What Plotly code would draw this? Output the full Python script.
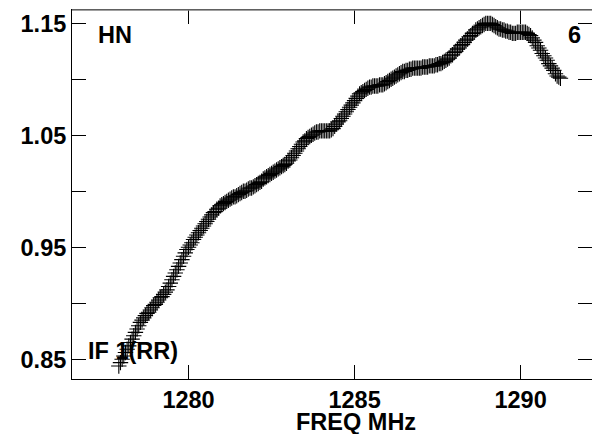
import plotly.graph_objects as go

freq = [
    1277.90, 1277.95, 1278.00, 1278.05, 1278.10, 1278.15, 1278.20, 1278.25, 1278.30, 1278.35,
    1278.40, 1278.45, 1278.50, 1278.55, 1278.60, 1278.65, 1278.70, 1278.75, 1278.80, 1278.85,
    1278.90, 1278.95, 1279.00, 1279.05, 1279.10, 1279.15, 1279.20, 1279.25, 1279.30, 1279.35,
    1279.40, 1279.45, 1279.50, 1279.55, 1279.60, 1279.65, 1279.70, 1279.75, 1279.80, 1279.85,
    1279.90, 1279.95, 1280.00, 1280.05, 1280.10, 1280.15, 1280.20, 1280.25, 1280.30, 1280.35,
    1280.40, 1280.45, 1280.50, 1280.55, 1280.60, 1280.65, 1280.70, 1280.75, 1280.80, 1280.85,
    1280.90, 1280.95, 1281.00, 1281.05, 1281.10, 1281.15, 1281.20, 1281.25, 1281.30, 1281.35,
    1281.40, 1281.45, 1281.50, 1281.55, 1281.60, 1281.65, 1281.70, 1281.75, 1281.80, 1281.85,
    1281.90, 1281.95, 1282.00, 1282.05, 1282.10, 1282.15, 1282.20, 1282.25, 1282.30, 1282.35,
    1282.40, 1282.45, 1282.50, 1282.55, 1282.60, 1282.65, 1282.70, 1282.75, 1282.80, 1282.85,
    1282.90, 1282.95, 1283.00, 1283.05, 1283.10, 1283.15, 1283.20, 1283.25, 1283.30, 1283.35,
    1283.40, 1283.45, 1283.50, 1283.55, 1283.60, 1283.65, 1283.70, 1283.75, 1283.80, 1283.85,
    1283.90, 1283.95, 1284.00, 1284.05, 1284.10, 1284.15, 1284.20, 1284.25, 1284.30, 1284.35,
    1284.40, 1284.45, 1284.50, 1284.55, 1284.60, 1284.65, 1284.70, 1284.75, 1284.80, 1284.85,
    1284.90, 1284.95, 1285.00, 1285.05, 1285.10, 1285.15, 1285.20, 1285.25, 1285.30, 1285.35,
    1285.40, 1285.45, 1285.50, 1285.55, 1285.60, 1285.65, 1285.70, 1285.75, 1285.80, 1285.85,
    1285.90, 1285.95, 1286.00, 1286.05, 1286.10, 1286.15, 1286.20, 1286.25, 1286.30, 1286.35,
    1286.40, 1286.45, 1286.50, 1286.55, 1286.60, 1286.65, 1286.70, 1286.75, 1286.80, 1286.85,
    1286.90, 1286.95, 1287.00, 1287.05, 1287.10, 1287.15, 1287.20, 1287.25, 1287.30, 1287.35,
    1287.40, 1287.45, 1287.50, 1287.55, 1287.60, 1287.65, 1287.70, 1287.75, 1287.80, 1287.85,
    1287.90, 1287.95, 1288.00, 1288.05, 1288.10, 1288.15, 1288.20, 1288.25, 1288.30, 1288.35,
    1288.40, 1288.45, 1288.50, 1288.55, 1288.60, 1288.65, 1288.70, 1288.75, 1288.80, 1288.85,
    1288.90, 1288.95, 1289.00, 1289.05, 1289.10, 1289.15, 1289.20, 1289.25, 1289.30, 1289.35,
    1289.40, 1289.45, 1289.50, 1289.55, 1289.60, 1289.65, 1289.70, 1289.75, 1289.80, 1289.85,
    1289.90, 1289.95, 1290.00, 1290.05, 1290.10, 1290.15, 1290.20, 1290.25, 1290.30, 1290.35,
    1290.40, 1290.45, 1290.50, 1290.55, 1290.60, 1290.65, 1290.70, 1290.75, 1290.80, 1290.85,
    1290.90, 1290.95, 1291.00, 1291.05, 1291.10, 1291.15, 1291.20,
]
amp = [
    0.844, 0.847, 0.850, 0.853, 0.856, 0.859, 0.862, 0.865, 0.868, 0.871,
    0.874, 0.877, 0.880, 0.883, 0.885, 0.887, 0.889, 0.891, 0.892, 0.894,
    0.896, 0.898, 0.899, 0.901, 0.903, 0.905, 0.906, 0.908, 0.910, 0.912,
    0.915, 0.918, 0.921, 0.924, 0.927, 0.930, 0.933, 0.936, 0.939, 0.942,
    0.945, 0.948, 0.950, 0.952, 0.954, 0.957, 0.959, 0.961, 0.963, 0.965,
    0.967, 0.969, 0.971, 0.973, 0.975, 0.977, 0.979, 0.981, 0.982, 0.984,
    0.985, 0.987, 0.988, 0.989, 0.990, 0.991, 0.992, 0.993, 0.994, 0.995,
    0.995, 0.996, 0.997, 0.998, 0.999, 1.000, 1.000, 1.001, 1.002, 1.003,
    1.003, 1.004, 1.005, 1.006, 1.007, 1.008, 1.009, 1.011, 1.012, 1.013,
    1.014, 1.015, 1.016, 1.017, 1.018, 1.019, 1.020, 1.021, 1.022, 1.023,
    1.024, 1.025, 1.027, 1.028, 1.030, 1.032, 1.034, 1.036, 1.038, 1.040,
    1.042, 1.044, 1.045, 1.047, 1.048, 1.049, 1.050, 1.051, 1.052, 1.053,
    1.053, 1.054, 1.054, 1.054, 1.054, 1.054, 1.054, 1.054, 1.055, 1.056,
    1.058, 1.060, 1.062, 1.063, 1.065, 1.067, 1.069, 1.071, 1.073, 1.075,
    1.077, 1.079, 1.081, 1.083, 1.085, 1.087, 1.088, 1.089, 1.090, 1.091,
    1.092, 1.093, 1.093, 1.094, 1.094, 1.094, 1.094, 1.095, 1.095, 1.095,
    1.096, 1.097, 1.098, 1.099, 1.100, 1.101, 1.102, 1.103, 1.104, 1.105,
    1.106, 1.107, 1.107, 1.108, 1.108, 1.109, 1.109, 1.110, 1.110, 1.110,
    1.110, 1.110, 1.110, 1.111, 1.111, 1.111, 1.111, 1.112, 1.112, 1.112,
    1.112, 1.113, 1.113, 1.114, 1.114, 1.115, 1.116, 1.117, 1.118, 1.119,
    1.121, 1.122, 1.124, 1.125, 1.127, 1.128, 1.130, 1.131, 1.133, 1.135,
    1.136, 1.138, 1.139, 1.141, 1.142, 1.144, 1.145, 1.146, 1.147, 1.148,
    1.149, 1.150, 1.150, 1.150, 1.150, 1.149, 1.148, 1.147, 1.146, 1.145,
    1.145, 1.144, 1.144, 1.143, 1.143, 1.142, 1.142, 1.141, 1.141, 1.141,
    1.142, 1.142, 1.142, 1.142, 1.142, 1.142, 1.141, 1.140, 1.139, 1.137,
    1.135, 1.133, 1.130, 1.128, 1.126, 1.123, 1.121, 1.119, 1.117, 1.114,
    1.112, 1.110, 1.108, 1.105, 1.103, 1.102, 1.101,
]

x_ticks = [1280, 1285, 1290]
y_ticks = [0.85, 0.90, 0.95, 1.00, 1.05, 1.10, 1.15]
y_labels = ["0.85", "", "0.95", "", "1.05", "", "1.15"]

W, H = 592, 434
L, R, T, B = 72, 0, 10, 55
pw, ph = W - L - R, H - T - B

def px(x):
    return (x - L) / pw

def py(y):
    return 1 - (y - T) / ph

fam = "Liberation Sans, Arial, sans-serif"
fnt = dict(family=fam, size=23.5, color="black")

fig = go.Figure(go.Scatter(
    x=freq, y=amp, mode="markers",
    marker=dict(symbol="cross-thin", size=11, line=dict(width=1.1, color="black"), color="black"),
    showlegend=False))

fig.update_xaxes(range=[1276.49, 1292.15], tickvals=x_ticks,
                 ticktext=["<b>%d</b>" % v for v in x_ticks],
                 ticks="inside", ticklen=14, tickwidth=1, tickcolor="black",
                 showline=True, linecolor="black", linewidth=1, mirror="ticks",
                 showgrid=False, zeroline=False, tickfont=fnt)
fig.update_yaxes(range=[0.8324, 1.1619], tickvals=y_ticks,
                 ticktext=["<b>%s</b>" % t if t else "" for t in y_labels],
                 ticks="inside", ticklen=14, tickwidth=1, tickcolor="black",
                 showline=True, linecolor="black", linewidth=1, mirror="ticks",
                 showgrid=False, zeroline=False, tickfont=fnt)

ann = []
for txt, x, y, anchor in [("<b>HN</b>", 96, 35, "left"), ("<b>6</b>", 566, 35, "left"),
                          ("<b>IF 1(RR)</b>", 86, 351, "left"), ("<b>FREQ MHz</b>", 356, 422, "center")]:
    ann.append(dict(text=txt, xref="paper", yref="paper", x=px(x), y=py(y), xanchor=anchor,
                    yanchor="middle", showarrow=False, font=fnt))

fig.update_layout(
    width=W, height=H, margin=dict(l=L, r=R, t=T, b=B),
    paper_bgcolor="white", plot_bgcolor="white",
    annotations=ann,
    shapes=[dict(type="line", xref="paper", yref="paper", x0=0, x1=1, y0=1, y1=1,
                 line=dict(color="#808080", width=1.5))],
)

fig.write_html("out.html", config={"displayModeBar": False},
               post_script="document.body.style.margin='0px';")
